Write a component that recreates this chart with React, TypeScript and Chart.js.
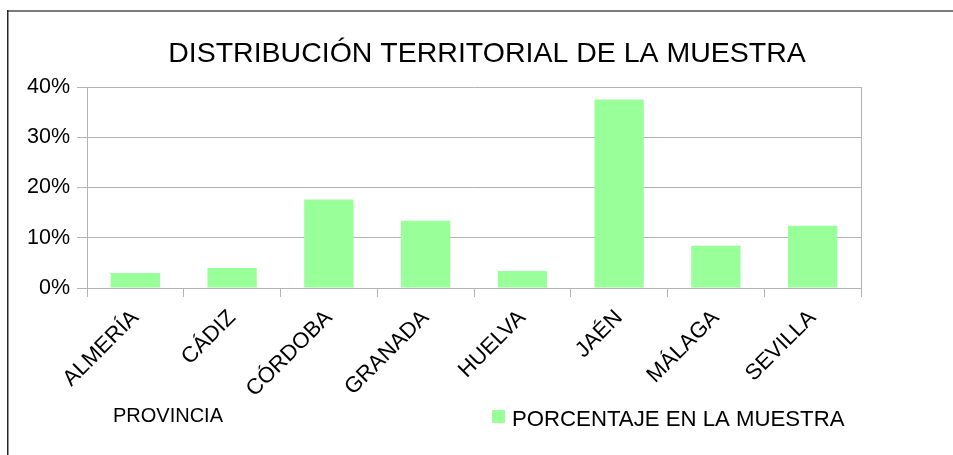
import { useEffect, useRef } from 'react';
import { Chart, registerables } from 'chart.js';

Chart.register(...registerables);

const CATEGORIES = ['ALMERÍA', 'CÁDIZ', 'CÓRDOBA', 'GRANADA', 'HUELVA', 'JAÉN', 'MÁLAGA', 'SEVILLA'];
const PERCENTAGES = [3.0, 4.0, 17.6, 13.4, 3.4, 37.5, 8.4, 12.4];
const SERIES_LABEL = 'PORCENTAJE EN LA MUESTRA';
const TITLE = 'DISTRIBUCIÓN TERRITORIAL DE LA MUESTRA';
const X_TITLE = 'PROVINCIA';
const Y_MIN = 0;
const Y_MAX = 40;
const Y_STEP = 10;

const FONT = "'Liberation Sans', Arial, sans-serif";
const W = 953;
const H = 455;
const BAR_COLOR = '#99ff99';
const GRID = '#b3b3b3';

const decor = {
  id: 'decor',
  beforeDraw(chart: any) {
    const ctx = chart.ctx;
    ctx.save();
    ctx.fillStyle = '#ffffff';
    ctx.fillRect(0, 0, W, H);
    ctx.fillStyle = '#7a7a7a';
    ctx.fillRect(7, 10, W - 7, 2);
    ctx.fillStyle = '#262626';
    ctx.fillRect(7, 10, 1.5, H - 10);
    ctx.restore();
  },
  afterDraw(chart: any) {
    const ctx = chart.ctx;
    ctx.save();
    ctx.fillStyle = '#000';
    ctx.textBaseline = 'alphabetic';
    ctx.font = `28.5px ${FONT}`;
    ctx.textAlign = 'center';
    ctx.fillText(TITLE, 487, 62);
    ctx.font = `20px ${FONT}`;
    ctx.textAlign = 'left';
    ctx.fillText(X_TITLE, 113, 422);
    const ds = chart.data.datasets[0];
    ctx.fillStyle = ds.backgroundColor;
    ctx.fillRect(492, 410, 13, 13);
    ctx.fillStyle = '#000';
    ctx.font = `22.2px ${FONT}`;
    ctx.fillText(ds.label, 512, 426);
    ctx.restore();
  },
};

export default function App() {
  const ref = useRef<HTMLCanvasElement | null>(null);

  useEffect(() => {
    if (!ref.current) return;
    const chart = new Chart(ref.current, {
      type: 'bar',
      data: {
        labels: CATEGORIES,
        datasets: [
          {
            label: SERIES_LABEL,
            data: PERCENTAGES,
            backgroundColor: BAR_COLOR,
            borderWidth: 0,
            categoryPercentage: 1,
            barPercentage: 0.51,
          },
        ],
      },
      options: {
        responsive: false,
        animation: false,
        devicePixelRatio: 1,
        layout: { padding: { top: 87, left: 0, right: 92, bottom: 0 } },
        plugins: {
          legend: { display: false },
          title: { display: false },
          tooltip: { enabled: false },
        },
        scales: {
          x: {
            afterFit: (s: any) => {
              s.height = 167;
            },
            grid: {
              offset: true,
              drawOnChartArea: true,
              color: (c: any) => (c.type === 'scale' ? GRID : 'rgba(0,0,0,0)'),
              tickColor: GRID,
              tickLength: 9,
              lineWidth: 1,
            },
            border: { color: GRID, width: 1 },
            ticks: {
              autoSkip: false,
              minRotation: 45,
              maxRotation: 45,
              padding: 8,
              color: '#000',
              font: { family: FONT, size: 22 },
            },
          },
          y: {
            min: Y_MIN,
            max: Y_MAX,
            afterFit: (s: any) => {
              s.width = 87;
            },
            grid: { color: GRID, tickLength: 10, lineWidth: 1 },
            border: { color: GRID, width: 1 },
            ticks: {
              stepSize: Y_STEP,
              padding: 7,
              color: '#000',
              font: { family: FONT, size: 21.5 },
              callback: (v: any) => `${v}%`,
            },
          },
        },
      },
      plugins: [decor],
    });
    return () => chart.destroy();
  }, []);

  return (
    <div style={{ position: 'absolute', left: 0, top: 0, width: W, height: H, background: '#fff' }}>
      <canvas ref={ref} width={W} height={H} style={{ display: 'block', width: W, height: H }} />
    </div>
  );
}
